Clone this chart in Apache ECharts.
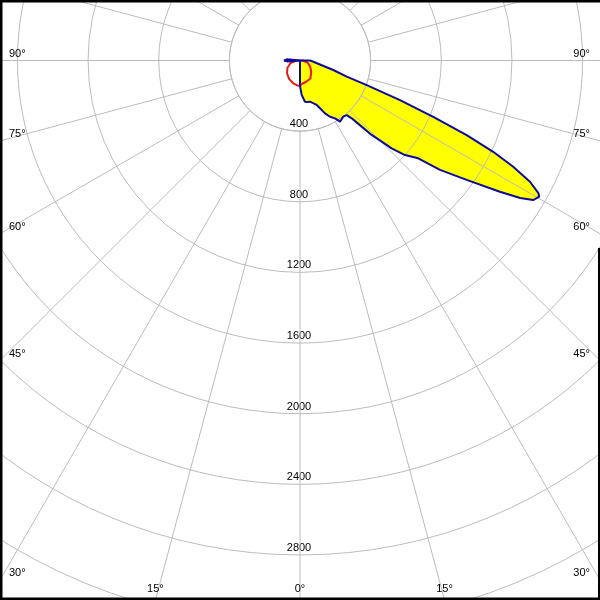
<!DOCTYPE html>
<html><head><meta charset="utf-8">
<script src="https://cdn.jsdelivr.net/npm/echarts@6/dist/echarts.min.js"></script>
<style>html,body{margin:0;padding:0;background:#fff}#c{width:600px;height:600px}</style>
</head><body><div id="c"></div>
<script>
// ---- data ----
const ringTicks = [400, 800, 1200, 1600, 2000, 2400, 2800];
const angleTicks = [0, 15, 30, 45, 60, 75, 90];
// C0-C180 plane (blue, filled). Gamma signed: negative = C180 side (left), positive = C0 side (right)
const blueAngles = [-180, -100, -95, -90, -85, -80, 0, 2.8, 5.2, 6.9, 10, 13.6, 15.3, 20.6, 22.7, 25.3, 28.1, 31.2, 33.2, 35.0, 37.6, 40.6, 41.8, 43.0, 43.9, 45.2, 46.2, 48.0, 50.4, 52.0, 54.4, 56.7, 58.0, 59.1, 60.35, 60.9, 62.2, 63.5, 64.7, 65.9, 67.1, 68.4, 69.8, 70.9, 74.1, 84.8, 90, 95, 180];
const blueValues = [0, 0, 75, 90, 70, 0, 144, 195, 206, 235, 238, 240, 251, 269, 293, 331, 361, 383, 414, 412, 401, 407, 439, 512, 585, 652, 719, 800, 869, 1006, 1161, 1354, 1470, 1539, 1559, 1545, 1472, 1349, 1210, 1034, 819, 609, 403, 280, 196, 76, 57, 0, 0];
// C90-C270 plane (red)
const redAngles = [-95, -90, -75, -60, -45, -30, -15, -5, 0, 7.5, 15, 30, 45, 60, 75, 90, 95];
const redValues = [0, 20, 55, 82, 104, 122, 136, 143, 142, 130, 126, 118, 90, 66, 44, 15, 0];

// ---- layout ----
const W = 600, H = 600;
const CX = 300, CY = 60.5;
const PX_PER_CD = 70.64 / 400;
const RMAX = 3600;
const GRID = '#bcbcbc';
const FONT = '11px "Liberation Sans", Arial, sans-serif';

const bluePairs = blueAngles.map((a, i) => [blueValues[i], a]);
const redPairs = redAngles.map((a, i) => [redValues[i], a]);

const angleBase = {type: 'value', min: -180, max: 180, interval: 15, startAngle: 90, clockwise: false,
  axisLabel: {show: false}, axisTick: {show: false}};

const graphics = [];
// angle labels placed where each ray meets the picture edge
angleTicks.forEach(a => {
  const sides = a === 0 ? [0] : [-1, 1];
  sides.forEach(s => {
    const rad = a * Math.PI / 180;
    const dx = s * Math.sin(rad), dy = Math.cos(rad);
    const tx = Math.abs(dx) < 1e-9 ? Infinity : (dx > 0 ? (W - CX) : CX) / Math.abs(dx);
    const ty = dy < 1e-9 ? Infinity : (H - CY) / dy;
    let x, y, align;
    if (ty <= tx) { x = CX + dx * ty; y = H - 11; align = 'center'; }
    else { y = CY + dy * tx - 7; x = dx < 0 ? 9 : W - 10; align = dx < 0 ? 'left' : 'right'; }
    graphics.push({type: 'text', x: x, y: y, z: 10, silent: true,
      style: {text: a + '°', font: FONT, fill: '#000', align: align, verticalAlign: 'middle'}});
  });
});
// ring value labels just above each ring on the 0° ray
ringTicks.forEach(v => {
  graphics.push({type: 'text', x: CX - 1, y: CY + v * PX_PER_CD - 7, z: 1, silent: true,
    style: {text: String(v), font: FONT, fill: '#000', align: 'center', verticalAlign: 'middle'}});
});
// frame
[[0, 0, W, 2.5], [0, 0, 2.5, H], [0, H - 2.5, W, 2.5], [W - 2, 248, 2, H - 248]].forEach(r => {
  graphics.push({type: 'rect', shape: {x: r[0], y: r[1], width: r[2], height: r[3]}, style: {fill: '#000'}, z: 20, silent: true});
});

const chart = echarts.init(document.getElementById('c'), null, {renderer: 'canvas'});
chart.setOption({
  backgroundColor: '#fff',
  animation: false,
  polar: [
    {center: [CX, CY], radius: [400 * PX_PER_CD, RMAX * PX_PER_CD]},
    {center: [CX, CY], radius: [0, RMAX * PX_PER_CD]}
  ],
  angleAxis: [
    Object.assign({}, angleBase, {polarIndex: 0, z: 3,
      axisLine: {show: true, lineStyle: {color: GRID, width: 1}},
      splitLine: {show: true, lineStyle: {color: GRID, width: 1}}}),
    Object.assign({}, angleBase, {polarIndex: 1, axisLine: {show: false}, splitLine: {show: false}})
  ],
  radiusAxis: [
    {type: 'value', polarIndex: 0, min: 400, max: RMAX, interval: 400, z: 3,
      axisLine: {show: false}, axisTick: {show: false}, axisLabel: {show: false},
      splitLine: {show: true, lineStyle: {color: GRID, width: 1}}},
    {type: 'value', polarIndex: 1, min: 0, max: RMAX,
      axisLine: {show: false}, axisTick: {show: false}, axisLabel: {show: false}, splitLine: {show: false}}
  ],
  series: [
    {type: 'line', coordinateSystem: 'polar', polarIndex: 1, data: bluePairs, symbol: 'none', clip: false, z: 1,
      lineStyle: {width: 0, opacity: 0}, areaStyle: {color: '#ffff00', opacity: 1}, silent: true},
    {type: 'line', coordinateSystem: 'polar', polarIndex: 1, data: redPairs, symbol: 'none', clip: false, z: 5,
      lineStyle: {color: '#e81818', width: 2}, silent: true},
    {type: 'line', coordinateSystem: 'polar', polarIndex: 1, data: bluePairs, symbol: 'none', clip: false, z: 6,
      lineStyle: {color: '#0c0c9c', width: 2}, silent: true}
  ],
  graphic: graphics
});
</script></body></html>
